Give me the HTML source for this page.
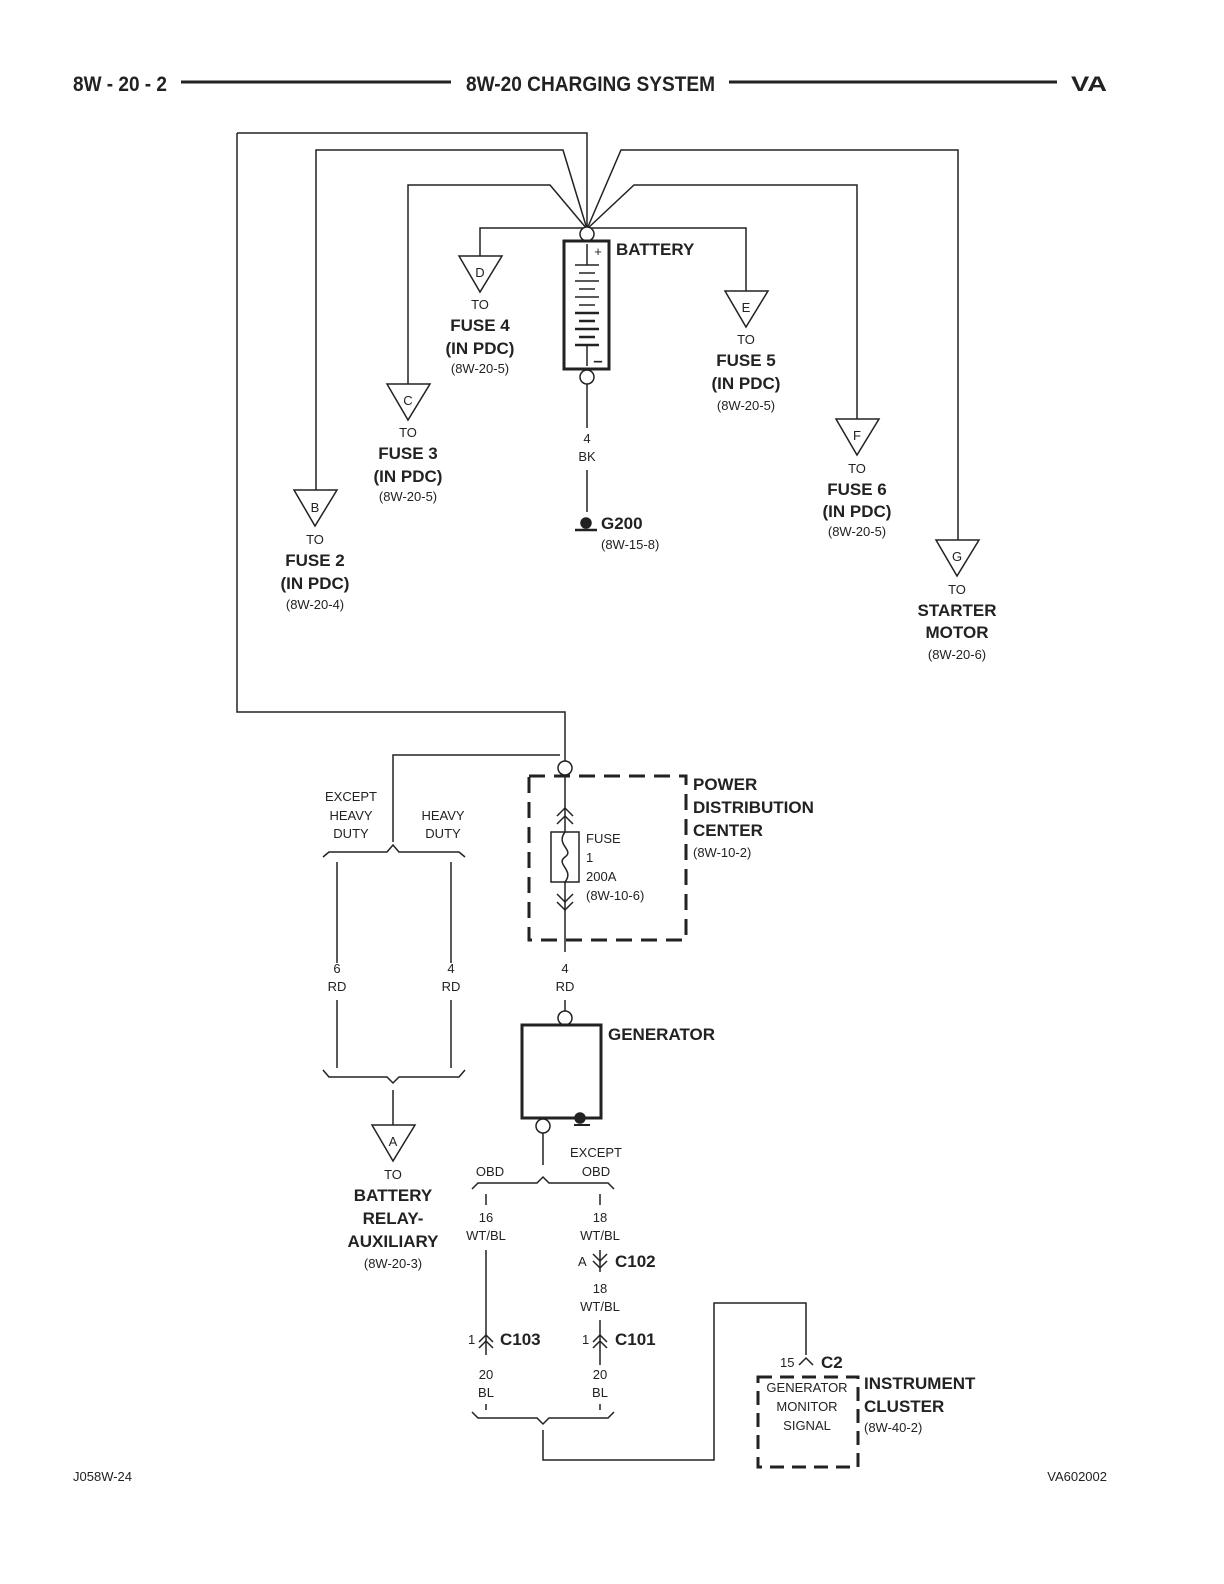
<!DOCTYPE html>
<html><head><meta charset="utf-8"><style>
body{margin:0;background:#fff}
svg{display:block}
text{font-family:"Liberation Sans",sans-serif;fill:#222}
.b{font-weight:bold;font-size:17px}
.s{font-size:13px}
.h{font-weight:bold;font-size:21px}
</style></head><body>
<svg width="1224" height="1584" viewBox="0 0 1224 1584" xmlns="http://www.w3.org/2000/svg">
<g stroke="#222" fill="none" stroke-width="1.5">
<line x1="181" y1="82" x2="451" y2="82" stroke-width="3"/>
<line x1="729" y1="82" x2="1057" y2="82" stroke-width="3"/>
<polyline points="237,133 587,133 587,229"/>
<polyline points="316,490 316,150 563,150 587,229"/>
<polyline points="408,384 408,185 550,185 587,229"/>
<polyline points="958,540 958,150 621,150 587,229"/>
<polyline points="857,419 857,185 634,185 587,229"/>
<polyline points="480,256 480,228 746,228 746,291"/>
<polyline points="237,133 237,712 565,712 565,761"/>
<circle cx="587" cy="234" r="7" fill="#fff"/>
<rect x="564" y="241" width="45" height="128" stroke-width="3"/>
<line x1="587" y1="244" x2="587" y2="265"/>
<line x1="587" y1="346" x2="587" y2="366"/>
<line x1="575" y1="265" x2="599" y2="265"/><line x1="579" y1="273" x2="595" y2="273"/>
<line x1="575" y1="281" x2="599" y2="281"/><line x1="579" y1="289" x2="595" y2="289"/>
<line x1="575" y1="297" x2="599" y2="297"/><line x1="579" y1="305" x2="595" y2="305"/>
<line x1="575" y1="313" x2="599" y2="313" stroke-width="2.5"/><line x1="579" y1="321" x2="595" y2="321" stroke-width="2.5"/>
<line x1="575" y1="329" x2="599" y2="329" stroke-width="2.5"/><line x1="579" y1="337" x2="595" y2="337" stroke-width="2.5"/>
<line x1="575" y1="345" x2="599" y2="345" stroke-width="2.5"/>
<circle cx="587" cy="377" r="7" fill="#fff"/>
<line x1="587" y1="384" x2="587" y2="428"/>
<line x1="587" y1="470" x2="587" y2="512"/>
<line x1="575" y1="530" x2="597" y2="530" stroke-width="2.5"/>
<circle cx="586" cy="523" r="5" fill="#222"/>
<polygon points="294,490 337,490 315,526" fill="#fff"/>
<polygon points="387,384 430,384 408,420" fill="#fff"/>
<polygon points="459,256 502,256 480,292" fill="#fff"/>
<polygon points="725,291 768,291 746,327" fill="#fff"/>
<polygon points="836,419 879,419 857,455" fill="#fff"/>
<polygon points="936,540 979,540 957,576" fill="#fff"/>
<circle cx="565" cy="768" r="7" fill="#fff"/>
<rect x="529" y="776" width="157" height="164" stroke-width="3" stroke-dasharray="16,9"/>
<line x1="565" y1="775" x2="565" y2="952"/>
<line x1="565" y1="1000" x2="565" y2="1011"/>
<polyline points="557,816 565,808 573,816"/><polyline points="557,824 565,816 573,824"/>
<polyline points="557,894 565,902 573,894"/><polyline points="557,902 565,910 573,902"/>
<rect x="551" y="832" width="28" height="50" fill="#fff"/>
<path d="M565,832 C555,845 575,850 565,857 C555,864 575,870 565,882"/>
<circle cx="565" cy="1018" r="7" fill="#fff"/>
<polyline points="560,755 393,755 393,842"/>
<path d="M323,857 L329,852 L387,852 L393,845 L399,852 L459,852 L465,857"/>
<line x1="337" y1="862" x2="337" y2="963"/><line x1="451" y1="862" x2="451" y2="963"/>
<line x1="337" y1="1000" x2="337" y2="1068"/><line x1="451" y1="1000" x2="451" y2="1068"/>
<path d="M323,1070 L329,1077 L387,1077 L393,1083 L399,1077 L459,1077 L465,1070"/>
<line x1="393" y1="1090" x2="393" y2="1125"/>
<polygon points="372,1125 415,1125 393,1161" fill="#fff"/>
<rect x="522" y="1025" width="79" height="93" stroke-width="3"/>
<circle cx="580" cy="1118" r="5" fill="#222"/>
<line x1="574" y1="1125" x2="590" y2="1125" stroke-width="2"/>
<circle cx="543" cy="1126" r="7" fill="#fff"/>
<line x1="543" y1="1133" x2="543" y2="1165"/>
<path d="M472,1189 L478,1183 L537,1183 L543,1177 L549,1183 L608,1183 L614,1189"/>
<line x1="486" y1="1194" x2="486" y2="1205"/><line x1="600" y1="1194" x2="600" y2="1205"/>
<line x1="486" y1="1250" x2="486" y2="1355"/>
<line x1="600" y1="1250" x2="600" y2="1272"/><line x1="600" y1="1320" x2="600" y2="1365"/>
<polyline points="593,1254 600,1261 607,1254"/><polyline points="593,1261 600,1268 607,1261"/>
<polyline points="479,1342 486,1335 493,1342"/><polyline points="479,1348 486,1341 493,1348"/>
<polyline points="593,1342 600,1335 607,1342"/><polyline points="593,1348 600,1341 607,1348"/>
<line x1="486" y1="1404" x2="486" y2="1410"/><line x1="600" y1="1404" x2="600" y2="1410"/>
<path d="M472,1412 L478,1418 L537,1418 L543,1424 L549,1418 L608,1418 L614,1412"/>
<polyline points="543,1430 543,1460 714,1460 714,1303 806,1303 806,1355"/>
<polyline points="799,1365 806,1358 813,1365"/>
<rect x="758" y="1377" width="100" height="90" stroke-width="3" stroke-dasharray="14,8"/>
</g>
<text x="73" y="91" class="h" textLength="94" lengthAdjust="spacingAndGlyphs">8W - 20 - 2</text>
<text x="466" y="91" class="h" textLength="249" lengthAdjust="spacingAndGlyphs">8W-20 CHARGING SYSTEM</text>
<text x="1071" y="91" class="h" textLength="36" lengthAdjust="spacingAndGlyphs">VA</text>
<text x="616" y="255" class="b">BATTERY</text>
<text x="598" y="256" class="s" text-anchor="middle">+</text>
<text x="598" y="366" class="b" text-anchor="middle">–</text>
<g text-anchor="middle">
<text x="315" y="512" class="s">B</text><text x="408" y="405" class="s">C</text><text x="480" y="277" class="s">D</text>
<text x="746" y="312" class="s">E</text><text x="857" y="440" class="s">F</text><text x="957" y="561" class="s">G</text>
<text x="315" y="544" class="s">TO</text><text x="315" y="566" class="b">FUSE 2</text><text x="315" y="589" class="b">(IN PDC)</text><text x="315" y="609" class="s">(8W-20-4)</text>
<text x="408" y="437" class="s">TO</text><text x="408" y="459" class="b">FUSE 3</text><text x="408" y="482" class="b">(IN PDC)</text><text x="408" y="501" class="s">(8W-20-5)</text>
<text x="480" y="309" class="s">TO</text><text x="480" y="331" class="b">FUSE 4</text><text x="480" y="354" class="b">(IN PDC)</text><text x="480" y="373" class="s">(8W-20-5)</text>
<text x="746" y="344" class="s">TO</text><text x="746" y="366" class="b">FUSE 5</text><text x="746" y="389" class="b">(IN PDC)</text><text x="746" y="410" class="s">(8W-20-5)</text>
<text x="857" y="473" class="s">TO</text><text x="857" y="495" class="b">FUSE 6</text><text x="857" y="517" class="b">(IN PDC)</text><text x="857" y="536" class="s">(8W-20-5)</text>
<text x="957" y="594" class="s">TO</text><text x="957" y="616" class="b">STARTER</text><text x="957" y="638" class="b">MOTOR</text><text x="957" y="659" class="s">(8W-20-6)</text>
<text x="587" y="443" class="s">4</text><text x="587" y="461" class="s">BK</text>
<text x="351" y="801" class="s">EXCEPT</text><text x="351" y="820" class="s">HEAVY</text><text x="351" y="838" class="s">DUTY</text>
<text x="443" y="820" class="s">HEAVY</text><text x="443" y="838" class="s">DUTY</text>
<text x="337" y="973" class="s">6</text><text x="337" y="991" class="s">RD</text>
<text x="451" y="973" class="s">4</text><text x="451" y="991" class="s">RD</text>
<text x="565" y="973" class="s">4</text><text x="565" y="991" class="s">RD</text>
<text x="393" y="1146" class="s">A</text>
<text x="393" y="1179" class="s">TO</text><text x="393" y="1201" class="b">BATTERY</text><text x="393" y="1224" class="b">RELAY-</text><text x="393" y="1247" class="b">AUXILIARY</text><text x="393" y="1268" class="s">(8W-20-3)</text>
<text x="490" y="1176" class="s">OBD</text>
<text x="596" y="1157" class="s">EXCEPT</text><text x="596" y="1176" class="s">OBD</text>
<text x="486" y="1222" class="s">16</text><text x="486" y="1240" class="s">WT/BL</text>
<text x="600" y="1222" class="s">18</text><text x="600" y="1240" class="s">WT/BL</text>
<text x="600" y="1293" class="s">18</text><text x="600" y="1311" class="s">WT/BL</text>
<text x="486" y="1379" class="s">20</text><text x="486" y="1397" class="s">BL</text>
<text x="600" y="1379" class="s">20</text><text x="600" y="1397" class="s">BL</text>
<text x="807" y="1392" class="s">GENERATOR</text><text x="807" y="1411" class="s">MONITOR</text><text x="807" y="1430" class="s">SIGNAL</text>
</g>
<text x="586" y="843" class="s">FUSE</text><text x="586" y="862" class="s">1</text><text x="586" y="881" class="s">200A</text><text x="586" y="900" class="s">(8W-10-6)</text>
<text x="693" y="790" class="b">POWER</text><text x="693" y="813" class="b">DISTRIBUTION</text><text x="693" y="836" class="b">CENTER</text><text x="693" y="857" class="s">(8W-10-2)</text>
<text x="608" y="1040" class="b">GENERATOR</text>
<text x="601" y="529" class="b">G200</text><text x="601" y="549" class="s">(8W-15-8)</text>
<text x="578" y="1266" class="s">A</text><text x="615" y="1267" class="b">C102</text>
<text x="468" y="1344" class="s">1</text><text x="500" y="1345" class="b">C103</text>
<text x="582" y="1344" class="s">1</text><text x="615" y="1345" class="b">C101</text>
<text x="780" y="1367" class="s">15</text><text x="821" y="1368" class="b">C2</text>
<text x="864" y="1389" class="b">INSTRUMENT</text><text x="864" y="1412" class="b">CLUSTER</text><text x="864" y="1432" class="s">(8W-40-2)</text>
<text x="73" y="1481" class="s">J058W-24</text>
<text x="1107" y="1481" class="s" text-anchor="end">VA602002</text>
</svg>
</body></html>
